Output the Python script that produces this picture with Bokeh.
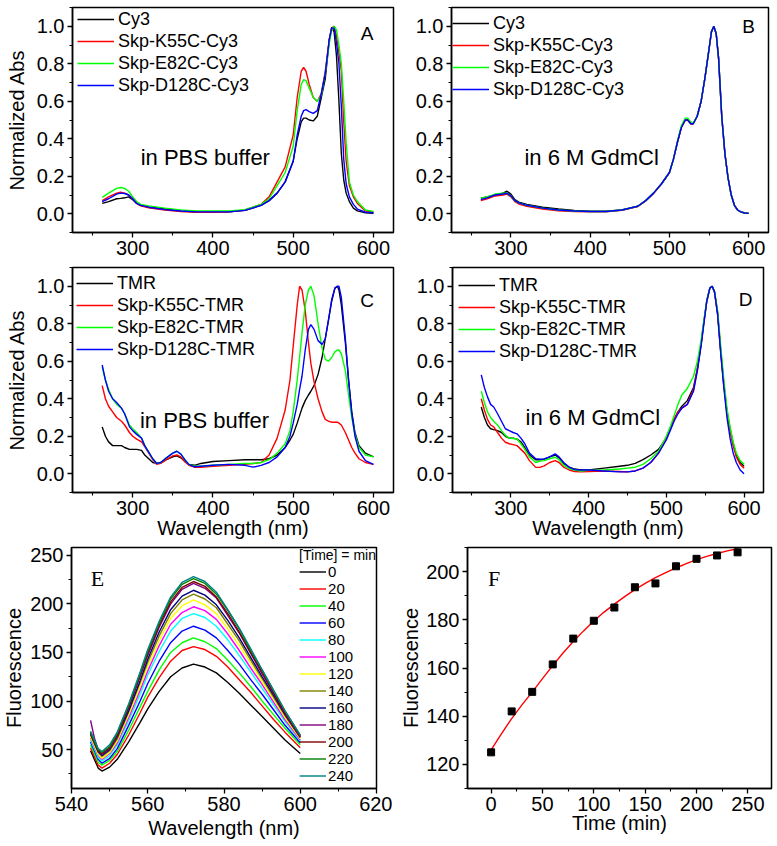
from bokeh.plotting import figure
from bokeh.layouts import column, row
from bokeh.models import FixedTicker, PrintfTickFormatter, Label, Range1d
from bokeh.embed import file_html
from bokeh.resources import INLINE

SANS = "Liberation Sans"
SERIF = "Liberation Serif"

# ---------------- Panel A : Cy3 in PBS buffer ----------------
WL_A = [262, 270, 280, 285, 290, 295, 300, 305, 310, 320, 340, 360, 380, 400, 420, 440, 460, 470, 480, 490,
        500, 505, 510, 513, 516, 520, 525, 530, 535, 540, 545, 548, 551, 554, 557, 560, 563, 566, 570, 575,
        580, 590, 600]
A_CY3 = [0.055, 0.065, 0.080, 0.082, 0.085, 0.090, 0.075, 0.055, 0.045, 0.035, 0.025, 0.015, 0.010, 0.010,
         0.010, 0.018, 0.045, 0.070, 0.110, 0.170, 0.280, 0.400, 0.490, 0.510, 0.510, 0.500, 0.495, 0.520,
         0.620, 0.720, 0.930, 0.995, 0.970, 0.840, 0.600, 0.320, 0.180, 0.110, 0.065, 0.030, 0.015, 0.005, 0.003]
A_K55C = [0.070, 0.090, 0.110, 0.115, 0.110, 0.100, 0.080, 0.055, 0.042, 0.032, 0.020, 0.012, 0.008, 0.008,
          0.010, 0.020, 0.050, 0.090, 0.170, 0.250, 0.420, 0.620, 0.760, 0.780, 0.760, 0.690, 0.620, 0.600,
          0.640, 0.760, 0.930, 0.990, 1.000, 0.950, 0.860, 0.760, 0.490, 0.280, 0.150, 0.090, 0.055, 0.015, 0.008]
A_E82C = [0.087, 0.110, 0.135, 0.140, 0.135, 0.120, 0.090, 0.065, 0.050, 0.042, 0.030, 0.020, 0.015, 0.015,
          0.015, 0.022, 0.050, 0.080, 0.150, 0.220, 0.360, 0.550, 0.690, 0.715, 0.710, 0.670, 0.620, 0.600,
          0.630, 0.750, 0.910, 0.980, 1.000, 0.980, 0.900, 0.800, 0.600, 0.380, 0.170, 0.100, 0.065, 0.020, 0.012]
A_D128C = [0.065, 0.080, 0.105, 0.110, 0.108, 0.100, 0.080, 0.055, 0.045, 0.035, 0.022, 0.015, 0.010, 0.010,
           0.010, 0.018, 0.045, 0.070, 0.110, 0.170, 0.280, 0.420, 0.520, 0.550, 0.555, 0.545, 0.535, 0.550,
           0.640, 0.750, 0.930, 0.990, 0.990, 0.910, 0.800, 0.570, 0.290, 0.160, 0.090, 0.050, 0.025, 0.008, 0.005]

# ---------------- Panel B : Cy3 in 6 M GdmCl ----------------
WL_B = [262, 270, 280, 290, 295, 300, 305, 310, 320, 340, 360, 380, 400, 420, 440, 460, 470, 480, 490, 500,
        505, 510, 515, 520, 523, 527, 530, 535, 540, 545, 550, 553, 556, 559, 562, 566, 570, 574, 578, 582,
        586, 590, 595, 600]
B_CY3 = [0.083, 0.090, 0.100, 0.110, 0.120, 0.105, 0.075, 0.062, 0.050, 0.035, 0.025, 0.018, 0.014, 0.013,
         0.020, 0.040, 0.070, 0.110, 0.160, 0.220, 0.290, 0.380, 0.460, 0.500, 0.500, 0.480, 0.480, 0.520,
         0.600, 0.730, 0.880, 0.970, 1.000, 0.960, 0.830, 0.520, 0.320, 0.190, 0.100, 0.045, 0.020, 0.010, 0.004, 0.002]
B_K55C = [0.070, 0.080, 0.095, 0.100, 0.105, 0.090, 0.065, 0.052, 0.040, 0.025, 0.016, 0.012, 0.010, 0.010,
          0.018, 0.038, 0.068, 0.108, 0.158, 0.220, 0.290, 0.380, 0.460, 0.500, 0.500, 0.480, 0.480, 0.520,
          0.600, 0.730, 0.880, 0.970, 1.000, 0.960, 0.830, 0.520, 0.320, 0.190, 0.100, 0.045, 0.020, 0.010, 0.004, 0.002]
B_E82C = [0.083, 0.090, 0.105, 0.110, 0.110, 0.095, 0.070, 0.058, 0.045, 0.030, 0.020, 0.015, 0.012, 0.012,
          0.020, 0.040, 0.070, 0.110, 0.160, 0.220, 0.290, 0.385, 0.470, 0.510, 0.510, 0.490, 0.482, 0.520,
          0.600, 0.730, 0.880, 0.970, 1.000, 0.960, 0.830, 0.520, 0.320, 0.190, 0.100, 0.045, 0.020, 0.010, 0.004, 0.002]
B_D128C = [0.075, 0.085, 0.100, 0.105, 0.110, 0.095, 0.070, 0.058, 0.045, 0.030, 0.020, 0.015, 0.012, 0.012,
           0.020, 0.040, 0.070, 0.110, 0.160, 0.220, 0.290, 0.380, 0.460, 0.500, 0.500, 0.480, 0.480, 0.520,
           0.600, 0.730, 0.880, 0.970, 1.000, 0.960, 0.830, 0.520, 0.320, 0.190, 0.100, 0.045, 0.020, 0.010, 0.004, 0.002]

# ---------------- Panel C : TMR in PBS buffer ----------------
WL_C = [262, 266, 270, 275, 280, 286, 290, 296, 300, 305, 311, 315, 320, 325, 330, 335, 342, 350, 355, 360,
        365, 370, 377, 385, 400, 420, 440, 450, 460, 470, 480, 490, 496, 500, 505, 508, 511, 515, 519, 522,
        526, 531, 536, 540, 544, 548, 552, 555, 557, 560, 565, 569, 573, 577, 582, 590, 600]
C_TMR = [0.25, 0.20, 0.17, 0.15, 0.15, 0.15, 0.14, 0.13, 0.13, 0.13, 0.125, 0.10, 0.08, 0.06, 0.055, 0.06,
         0.075, 0.09, 0.095, 0.085, 0.065, 0.05, 0.045, 0.055, 0.065, 0.07, 0.075, 0.075, 0.075, 0.08, 0.10,
         0.14, 0.18, 0.21, 0.27, 0.31, 0.35, 0.39, 0.42, 0.44, 0.47, 0.53, 0.62, 0.72, 0.82, 0.92, 0.99, 1.0,
         0.98, 0.90, 0.70, 0.50, 0.33, 0.22, 0.15, 0.11, 0.09]
C_K55C = [0.47, 0.40, 0.36, 0.33, 0.30, 0.28, 0.26, 0.22, 0.20, 0.185, 0.17, 0.145, 0.11, 0.075, 0.05, 0.055,
          0.075, 0.095, 0.10, 0.09, 0.065, 0.045, 0.035, 0.035, 0.04, 0.045, 0.05, 0.055, 0.06, 0.10, 0.19,
          0.34, 0.50, 0.68, 0.90, 1.0, 0.98, 0.87, 0.70, 0.59, 0.49, 0.40, 0.33, 0.29, 0.28, 0.275, 0.275,
          0.275, 0.27, 0.26, 0.22, 0.18, 0.14, 0.11, 0.08, 0.06, 0.05]
C_E82C = [0.57, 0.50, 0.45, 0.40, 0.37, 0.35, 0.32, 0.26, 0.24, 0.22, 0.19, 0.15, 0.115, 0.08, 0.055, 0.06,
          0.085, 0.11, 0.12, 0.105, 0.075, 0.05, 0.04, 0.04, 0.045, 0.05, 0.055, 0.055, 0.06, 0.075, 0.11,
          0.16, 0.23, 0.33, 0.50, 0.62, 0.75, 0.90, 0.98, 1.0, 0.95, 0.80, 0.67, 0.61, 0.60, 0.62, 0.65, 0.66,
          0.66, 0.64, 0.55, 0.42, 0.30, 0.21, 0.14, 0.10, 0.09]
C_D128C = [0.58, 0.50, 0.44, 0.40, 0.38, 0.35, 0.32, 0.25, 0.23, 0.21, 0.19, 0.15, 0.115, 0.08, 0.055, 0.06,
           0.085, 0.11, 0.12, 0.105, 0.075, 0.05, 0.037, 0.04, 0.045, 0.05, 0.045, 0.035, 0.045, 0.06, 0.09,
           0.14, 0.20, 0.27, 0.37, 0.45, 0.52, 0.66, 0.77, 0.795, 0.77, 0.71, 0.69, 0.72, 0.82, 0.93, 0.99,
           1.0, 1.0, 0.94, 0.72, 0.50, 0.32, 0.20, 0.12, 0.07, 0.05]

# ---------------- Panel D : TMR in 6 M GdmCl ----------------
WL_D = [262, 266, 270, 274, 278, 283, 288, 293, 298, 303, 308, 313, 318, 324, 332, 338, 343, 350, 357, 362,
        368, 375, 382, 390, 400, 420, 440, 450, 460, 470, 480, 490, 500, 505, 510, 515, 520, 527, 535, 540,
        545, 548, 552, 556, 559, 562, 566, 570, 574, 578, 582, 586, 590, 595, 600]
D_TMR = [0.356, 0.30, 0.26, 0.24, 0.235, 0.23, 0.22, 0.20, 0.19, 0.19, 0.185, 0.17, 0.14, 0.10, 0.075, 0.075,
         0.078, 0.09, 0.10, 0.085, 0.055, 0.035, 0.025, 0.02, 0.02, 0.03, 0.04, 0.045, 0.055, 0.075, 0.10,
         0.13, 0.19, 0.24, 0.29, 0.33, 0.36, 0.39, 0.46, 0.56, 0.70, 0.80, 0.92, 0.99, 1.0, 0.97, 0.85, 0.65,
         0.47, 0.33, 0.24, 0.16, 0.10, 0.06, 0.04]
D_K55C = [0.40, 0.34, 0.29, 0.26, 0.25, 0.22, 0.19, 0.168, 0.16, 0.155, 0.15, 0.13, 0.11, 0.07, 0.034, 0.035,
          0.042, 0.06, 0.07, 0.06, 0.035, 0.02, 0.012, 0.01, 0.012, 0.015, 0.012, 0.01, 0.015, 0.03, 0.06,
          0.11, 0.19, 0.24, 0.29, 0.33, 0.35, 0.37, 0.45, 0.56, 0.70, 0.80, 0.92, 0.99, 1.0, 0.97, 0.86, 0.66,
          0.48, 0.33, 0.23, 0.15, 0.09, 0.05, 0.03]
D_E82C = [0.44, 0.38, 0.33, 0.30, 0.28, 0.26, 0.23, 0.205, 0.19, 0.188, 0.185, 0.16, 0.13, 0.09, 0.06, 0.068,
          0.07, 0.08, 0.088, 0.075, 0.045, 0.028, 0.02, 0.015, 0.018, 0.02, 0.025, 0.03, 0.035, 0.05, 0.08,
          0.12, 0.20, 0.25, 0.31, 0.37, 0.42, 0.455, 0.52, 0.60, 0.72, 0.81, 0.92, 0.99, 1.0, 0.97, 0.87, 0.68,
          0.50, 0.35, 0.25, 0.17, 0.11, 0.07, 0.05]
D_D128C = [0.527, 0.46, 0.41, 0.37, 0.356, 0.32, 0.28, 0.24, 0.23, 0.22, 0.213, 0.19, 0.16, 0.11, 0.08, 0.078,
           0.079, 0.09, 0.106, 0.09, 0.06, 0.035, 0.022, 0.02, 0.02, 0.015, 0.01, 0.01, 0.015, 0.03, 0.06,
           0.11, 0.18, 0.23, 0.28, 0.32, 0.35, 0.37, 0.44, 0.55, 0.69, 0.79, 0.92, 0.99, 1.0, 0.97, 0.85, 0.64,
           0.46, 0.30, 0.19, 0.11, 0.06, 0.02, 0.0]

# ---------------- Panel E : fluorescence spectra vs time ----------------
WL_E = [545, 546, 547, 548, 550, 552, 555, 558, 560, 563, 566, 569, 572, 575, 578, 581, 584, 587, 590, 593, 596, 600]
E_0 = [49, 40, 31, 28, 32, 40, 58, 78, 92, 110, 125, 134, 138, 135, 129, 119, 108, 96, 84, 72, 60, 46]
E_20 = [52, 43, 34, 31, 36, 45, 65, 88, 104, 124, 141, 152, 156, 153, 146, 135, 122, 109, 95, 81, 68, 52]
E_40 = [55, 46, 37, 34, 39, 48, 70, 94, 110, 132, 150, 160, 165, 161, 154, 142, 129, 115, 100, 86, 72, 55]
E_60 = [58, 49, 40, 36, 41, 51, 75, 100, 118, 141, 160, 172, 177, 173, 165, 152, 138, 122, 107, 91, 75, 57]
E_80 = [60, 51, 42, 38, 44, 55, 80, 107, 127, 151, 172, 185, 190, 186, 177, 163, 147, 130, 113, 96, 79, 59]
E_100 = [62, 53, 44, 40, 46, 57, 83, 111, 131, 157, 179, 191, 197, 193, 184, 169, 152, 134, 117, 99, 81, 60]
E_120 = [63, 54, 45, 41, 47, 59, 86, 115, 136, 162, 185, 198, 204, 199, 190, 174, 157, 139, 120, 102, 83, 61]
E_140 = [65, 56, 47, 43, 49, 61, 89, 119, 140, 167, 190, 204, 210, 205, 196, 179, 162, 142, 123, 104, 85, 62]
E_160 = [66, 57, 48, 44, 50, 63, 90, 121, 143, 171, 194, 208, 214, 209, 199, 183, 165, 145, 125, 106, 86, 63]
E_180 = [80, 62, 50, 45, 51, 64, 93, 125, 147, 176, 200, 215, 221, 216, 206, 188, 170, 149, 128, 108, 87, 63]
E_200 = [67, 58, 49, 46, 52, 65, 94, 127, 149, 178, 202, 217, 223, 218, 207, 190, 171, 150, 130, 109, 88, 64]
E_220 = [68, 59, 50, 47, 53, 67, 96, 128, 151, 180, 205, 220, 226, 221, 210, 193, 174, 152, 132, 111, 90, 65]
E_240 = [69, 60, 51, 48, 55, 68, 97, 130, 153, 182, 207, 222, 228, 223, 212, 194, 175, 154, 132, 111, 90, 65]
E_TIMES = ["0", "20", "40", "60", "80", "100", "120", "140", "160", "180", "200", "220", "240"]
E_SERIES = [E_0, E_20, E_40, E_60, E_80, E_100, E_120, E_140, E_160, E_180, E_200, E_220, E_240]
E_COLORS = ["#000000", "#FF0000", "#00FF00", "#0000FF", "#00FFFF", "#FF00FF", "#FFFF00",
            "#808000", "#000080", "#800080", "#800000", "#008000", "#008080"]

# ---------------- Panel F : fluorescence vs time ----------------
F_TIME = [0, 20, 40, 60, 80, 100, 120, 140, 160, 180, 200, 220, 240]
F_FLUOR = [125.0, 142.0, 150.1, 161.5, 172.2, 179.6, 185.1, 193.5, 195.1, 202.2, 205.3, 206.7, 208.0]
FIT_TIME = [0, 10, 20, 30, 40, 50, 60, 70, 80, 90, 100, 110, 120, 130, 140, 150, 160, 170, 180, 190, 200,
            210, 220, 230, 240]
FIT_FLUOR = [126.0, 132.7, 139.0, 144.7, 150.0, 155.6, 161.0, 166.2, 171.0, 175.4, 179.5, 183.2, 186.5,
             189.6, 192.5, 195.1, 197.5, 199.6, 201.5, 203.3, 205.0, 206.3, 207.5, 208.6, 209.5]

SERIES_COLORS = ["#000000", "#FF0000", "#00FF00", "#0000FF"]


def make_fig(w, h, bl, br, bt, bb, xr, yr):
    p = figure(width=w, height=h, x_range=Range1d(*xr), y_range=Range1d(*yr),
               output_backend="svg", toolbar_location=None,
               min_border_left=bl, min_border_right=br, min_border_top=bt, min_border_bottom=bb)
    p.xgrid.visible = False
    p.ygrid.visible = False
    p.outline_line_color = "black"
    p.outline_line_width = 1.5
    p.outline_line_alpha = 1
    p.background_fill_color = "white"
    p.border_fill_color = "white"
    return p


def style_axes(p, xt, xm, yt, ym, yfmt, tick_fs, xlabel=None, ylabel=None, label_fs="20px",
               xls=0, yls=6):
    p.xaxis.ticker = FixedTicker(ticks=xt, minor_ticks=xm)
    p.yaxis.ticker = FixedTicker(ticks=yt, minor_ticks=ym)
    if yfmt:
        p.yaxis.formatter = PrintfTickFormatter(format=yfmt)
    for ax in (p.xaxis[0], p.yaxis[0]):
        ax.axis_line_color = "black"
        ax.axis_line_width = 1.5
        ax.major_tick_line_color = "black"
        ax.major_tick_line_width = 1.3
        ax.major_tick_out = 5
        ax.major_tick_in = 0
        ax.minor_tick_line_color = "black"
        ax.minor_tick_line_width = 1.1
        ax.minor_tick_out = 3
        ax.minor_tick_in = 0
        ax.major_label_text_font = SANS
        ax.major_label_text_font_size = tick_fs
        ax.major_label_text_color = "black"
        ax.major_label_standoff = 3
        ax.axis_label_text_font = SANS
        ax.axis_label_text_font_size = label_fs
        ax.axis_label_text_font_style = "normal"
        ax.axis_label_text_color = "black"
    if xlabel:
        p.xaxis.axis_label = xlabel
        p.xaxis.axis_label_standoff = xls
    if ylabel:
        p.yaxis.axis_label = ylabel
        p.yaxis.axis_label_standoff = yls


def abs_panel(w, h, bl, br, bt, bb, wl, series, names, letter, note, note_xy, letter_xy,
              leg_off, xlabel, ylabel):
    p = make_fig(w, h, bl, br, bt, bb, (225, 625), (-0.1, 1.1))
    style_axes(p, [300, 400, 500, 600], [250, 350, 450, 550],
               [0.0, 0.2, 0.4, 0.6, 0.8, 1.0], [-0.1, 0.1, 0.3, 0.5, 0.7, 0.9, 1.1], "%.1f", "20px",
               xlabel=xlabel, ylabel=ylabel, xls=-1, yls=6)
    for ys, c, n in zip(series, SERIES_COLORS, names):
        p.line(wl, ys, line_color=c, line_width=1.4, legend_label=n)
    lg = p.legend[0]
    fh = h - bt - bb
    lg.location = (leg_off[0], fh - leg_off[1] - 4 * 22)
    lg.padding = 0
    lg.margin = 0
    lg.spacing = 0
    lg.glyph_width = 37
    lg.glyph_height = 22
    lg.label_height = 22
    lg.label_standoff = 4
    lg.label_text_font = SANS
    lg.label_text_font_size = "18px"
    lg.label_text_color = "black"
    lg.border_line_color = None
    lg.background_fill_alpha = 0
    p.add_layout(Label(x=note_xy[0], y=note_xy[1], text=note, text_font=SANS, text_font_size="22px",
                       text_baseline="middle", text_align="left", text_color="black"))
    p.add_layout(Label(x=letter_xy[0], y=letter_xy[1], text=letter, text_font=SANS, text_font_size="19px",
                       text_baseline="middle", text_align="center", text_color="black"))
    return p


CY3_NAMES = ["Cy3", "Skp-K55C-Cy3", "Skp-E82C-Cy3", "Skp-D128C-Cy3"]
TMR_NAMES = ["TMR", "Skp-K55C-TMR", "Skp-E82C-TMR", "Skp-D128C-TMR"]

pA = abs_panel(401, 265, 72, 8, 7, 33, WL_A, [A_CY3, A_K55C, A_E82C, A_D128C], CY3_NAMES,
               "A", "in PBS buffer", (310, 0.30), (592, 0.96), (5, 1), None, "Normalized Abs")
pB = abs_panel(375, 265, 50, 8, 7, 33, WL_B, [B_CY3, B_K55C, B_E82C, B_D128C], CY3_NAMES,
               "B", "in 6 M GdmCl", (317, 0.30), (600, 1.0), (1, 5), None, None)
pC = abs_panel(401, 280, 72, 8, 2, 53, WL_C, [C_TMR, C_K55C, C_E82C, C_D128C], TMR_NAMES,
               "C", "in PBS buffer", (309, 0.283), (592, 0.925), (4, 5), "Wavelength (nm)", "Normalized Abs")
pD = abs_panel(375, 280, 51, 13, 2, 53, WL_D, [D_TMR, D_K55C, D_E82C, D_D128C], TMR_NAMES,
               "D", "in 6 M GdmCl", (319, 0.30), (602, 0.93), (6, 7), "Wavelength (nm)", None)

# Panel E
pE = make_fig(392, 299, 71, 16, 2, 56, (540, 620), (10, 258))
style_axes(pE, [540, 560, 580, 600, 620], [550, 570, 590, 610], [50, 100, 150, 200, 250],
           [25, 75, 125, 175, 225], None, "20px", xlabel="Wavelength (nm)", ylabel="Fluorescence",
           xls=3, yls=2)
for ys, c, n in zip(E_SERIES, E_COLORS, E_TIMES):
    pE.line(WL_E, ys, line_color=c, line_width=1.4, legend_label=n)
lgE = pE.legend[0]
lgE.location = "top_right"
lgE.title = "[Time] = min"
lgE.title_text_font = SANS
lgE.title_text_font_size = "14px"
lgE.title_text_font_style = "normal"
lgE.title_text_color = "black"
lgE.title_standoff = 0
lgE.padding = 1
lgE.margin = 0
lgE.spacing = 0
lgE.glyph_width = 27
lgE.glyph_height = 17
lgE.label_height = 17
lgE.label_standoff = 2
lgE.label_text_font = SANS
lgE.label_text_font_size = "15px"
lgE.label_text_color = "black"
lgE.border_line_color = None
lgE.background_fill_alpha = 0
pE.add_layout(Label(x=546.8, y=226, text="E", text_font=SERIF, text_font_size="22px",
                    text_baseline="middle", text_align="center", text_color="black"))

# Panel F
pF = make_fig(384, 299, 75, 5, 2, 56, (-23, 273), (110, 210))
style_axes(pF, [0, 50, 100, 150, 200, 250], [-25, 25, 75, 125, 175, 225], [120, 140, 160, 180, 200],
           [110, 130, 150, 170, 190, 210], None, "20px", xlabel="Time (min)", ylabel="Fluorescence",
           xls=-2, yls=1)
pF.line(FIT_TIME, FIT_FLUOR, line_color="#FF0000", line_width=1.4)
pF.scatter(F_TIME, F_FLUOR, marker="square", size=7, fill_color="black", line_color="black")
pF.add_layout(Label(x=3, y=197, text="F", text_font=SERIF, text_font_size="22px",
                    text_baseline="middle", text_align="center", text_color="black"))

layout = column(row(pA, pB, spacing=0), row(pC, pD, spacing=0), row(pE, pF, spacing=0), spacing=0)
open("out.html", "w").write(file_html(layout, INLINE))
